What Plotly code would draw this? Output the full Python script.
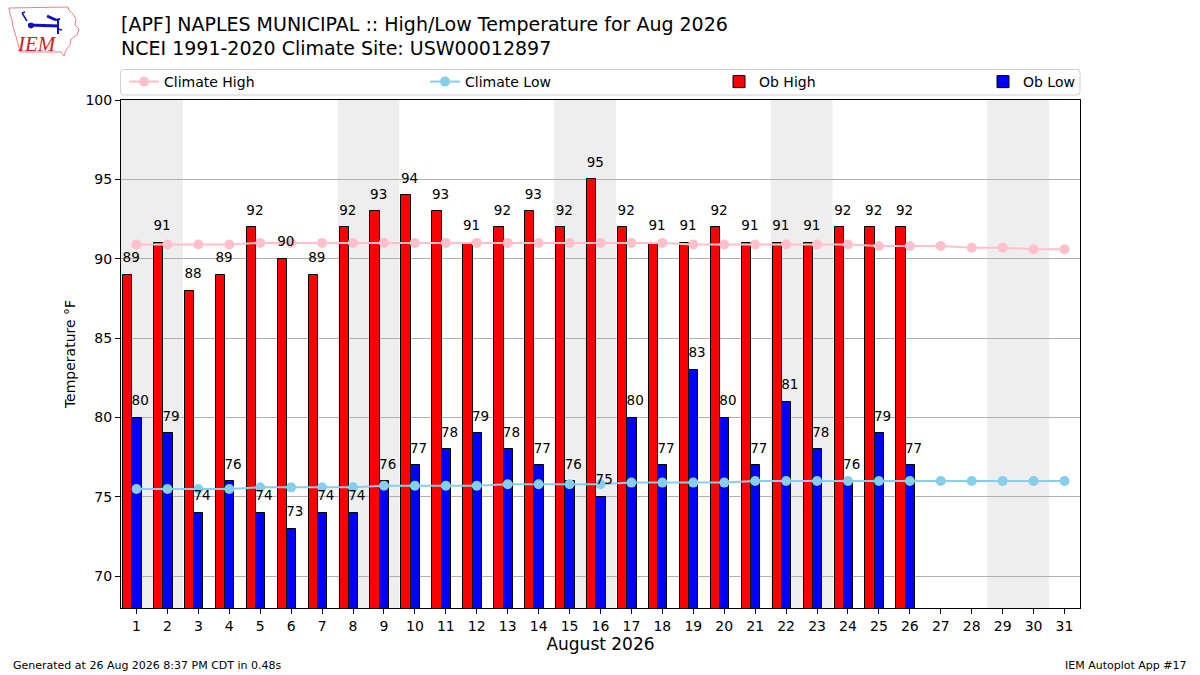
import plotly.graph_objects as go

# ---------------- data ----------------
days = list(range(1, 32))
obs_days = list(range(1, 27))
ob_high = [89, 91, 88, 89, 92, 90, 89, 92, 93, 94, 93, 91, 92, 93, 92, 95,
           92, 91, 91, 92, 91, 91, 91, 92, 92, 92]
ob_low = [80, 79, 74, 76, 74, 73, 74, 74, 76, 77, 78, 79, 78, 77, 76, 75,
          80, 77, 83, 80, 77, 81, 78, 76, 79, 77]
climate_high = [90.9, 90.9, 90.9, 90.9, 91.0, 91.0, 91.0, 91.0, 91.0, 91.0,
                91.0, 91.0, 91.0, 91.0, 91.0, 91.0, 91.0, 91.0, 90.9, 90.9,
                90.9, 90.9, 90.9, 90.9, 90.8, 90.8, 90.8, 90.7, 90.7, 90.6, 90.6]
climate_low = [75.5, 75.5, 75.5, 75.5, 75.6, 75.6, 75.6, 75.6, 75.7, 75.7,
               75.7, 75.7, 75.8, 75.8, 75.8, 75.8, 75.9, 75.9, 75.9, 75.9,
               76.0, 76.0, 76.0, 76.0, 76.0, 76.0, 76.0, 76.0, 76.0, 76.0, 76.0]
weekend_days = [1, 2, 8, 9, 15, 16, 22, 23, 29, 30]
y_ticks = [70, 75, 80, 85, 90, 95, 100]

# ---------------- layout geometry ----------------
W, H = 1200, 675
ML, MR, MT, MB = 121, 120, 100, 67
PW, PH = W - ML - MR, H - MT - MB


def px2x(px):
    return (px - ML) / PW


def py2y(py):
    return 1 - (py - MT) / PH


def P(a, b):
    return f"{px2x(a):.5f},{py2y(b):.5f}"


FONT = "DejaVu Sans"

fig = go.Figure()

# bars
fig.add_trace(go.Bar(
    x=obs_days, y=ob_high, width=0.3, offset=-0.435, name="Ob High",
    marker=dict(color="red", line=dict(color="black", width=1)),
    legend="legend3", showlegend=True,
))
fig.add_trace(go.Bar(
    x=obs_days, y=ob_low, width=0.3, offset=-0.135, name="Ob Low",
    marker=dict(color="blue", line=dict(color="black", width=1)),
    legend="legend4", showlegend=True,
))

# climate lines
fig.add_trace(go.Scatter(
    x=days, y=climate_high, mode="lines+markers", name="Climate High",
    line=dict(color="pink", width=2), marker=dict(color="pink", size=10),
    legend="legend",
))
fig.add_trace(go.Scatter(
    x=days, y=climate_low, mode="lines+markers", name="Climate Low",
    line=dict(color="skyblue", width=2), marker=dict(color="skyblue", size=10),
    legend="legend2",
))

# value labels
fig.add_trace(go.Scatter(
    x=[d - 0.17 for d in obs_days], y=[v + 1 for v in ob_high],
    mode="text", text=[str(v) for v in ob_high], textposition="middle center",
    textfont=dict(family=FONT, size=13.5, color="black"), showlegend=False,
    hoverinfo="skip",
))
fig.add_trace(go.Scatter(
    x=[d + 0.12 for d in obs_days], y=[v + 1 for v in ob_low],
    mode="text", text=[str(v) for v in ob_low], textposition="middle center",
    textfont=dict(family=FONT, size=13.5, color="black"), showlegend=False,
    hoverinfo="skip",
))

# weekend shading (merge consecutive days into one band)
bands = []
for d in weekend_days:
    if bands and bands[-1][1] == d - 1:
        bands[-1][1] = d
    else:
        bands.append([d, d])
for a, b in bands:
    fig.add_vrect(x0=a - 0.5, x1=b + 0.5, fillcolor="#eeeeee", line_width=0,
                  layer="below")

# legend frame (rounded)
lx0, lx1, ly0, ly1, r = 120.5, 1080, 69.5, 95, 3
frame = (f"M {P(lx0 + r, ly0)} L {P(lx1 - r, ly0)} Q {P(lx1, ly0)} {P(lx1, ly0 + r)} "
         f"L {P(lx1, ly1 - r)} Q {P(lx1, ly1)} {P(lx1 - r, ly1)} "
         f"L {P(lx0 + r, ly1)} Q {P(lx0, ly1)} {P(lx0, ly1 - r)} "
         f"L {P(lx0, ly0 + r)} Q {P(lx0, ly0)} {P(lx0 + r, ly0)} Z")
fig.add_shape(type="path", xref="paper", yref="paper", path=frame,
              line=dict(color="#d0d0d0", width=1), fillcolor="white",
              layer="below")

leg_common = dict(orientation="h", yanchor="middle", y=py2y(82),
                  xanchor="left", bgcolor="rgba(0,0,0,0)", borderwidth=0,
                  font=dict(family=FONT, size=14, color="black"),
                  itemwidth=30)

# ---------------- logo ----------------
iowa = [(9, 8), (68, 7), (69, 10), (73, 14), (76, 19), (75, 25), (79, 29),
        (77, 35), (71, 39), (70, 45), (66, 50), (64, 56), (61, 52), (20, 52),
        (19, 48), (17, 40), (15, 33), (13, 27), (12, 20), (10, 14)]
path = "M " + " L ".join(P(a, b) for a, b in iowa) + " Z"
fig.add_shape(type="path", xref="paper", yref="paper", path=path,
              line=dict(color="#f08080", width=1))
icon_lines = [((28, 25), (59, 26), 3), ((58, 19), (58, 34), 2),
              ((47, 16), (56, 20), 3), ((56, 20), (60, 19), 2),
              ((22, 13), (27, 21), 1.5), ((22, 13), (25, 12), 1.5),
              ((58, 29), (62, 30), 1.5)]
for (a, b), (c, d), w in icon_lines:
    fig.add_shape(type="line", xref="paper", yref="paper",
                  x0=px2x(a), y0=py2y(b), x1=px2x(c), y1=py2y(d),
                  line=dict(color="#1010c0", width=w))
fig.add_shape(type="circle", xref="paper", yref="paper",
              x0=px2x(28.5), x1=px2x(33.5), y0=py2y(28), y1=py2y(23),
              fillcolor="#1010c0", line=dict(color="#1010c0", width=1))
fig.add_annotation(text="<i>IEM</i>", xref="paper", yref="paper",
                   x=px2x(37), y=py2y(44), xanchor="center", yanchor="middle",
                   showarrow=False,
                   font=dict(family="Liberation Serif", size=21, color="#d02020"))

# footer
fig.add_annotation(text="Generated at 26 Aug 2026 8:37 PM CDT in 0.48s",
                   xref="paper", yref="paper", x=px2x(11), y=py2y(665),
                   xanchor="left", yanchor="middle", showarrow=False,
                   font=dict(family=FONT, size=11, color="black"))
fig.add_annotation(text="IEM Autoplot App #17",
                   xref="paper", yref="paper", x=px2x(1189), y=py2y(665),
                   xanchor="right", yanchor="middle", showarrow=False,
                   font=dict(family=FONT, size=11, color="black"))

fig.update_layout(
    width=W, height=H,
    margin=dict(l=ML, r=MR, t=MT, b=MB, pad=0),
    paper_bgcolor="white", plot_bgcolor="white",
    font=dict(family=FONT, size=14, color="black"),
    title=dict(
        text="[APF] NAPLES MUNICIPAL :: High/Low Temperature for Aug 2026<br>"
             "NCEI 1991-2020 Climate Site: USW00012897",
        x=0, xref="paper", xanchor="left",
        y=1 - 30.5 / H, yref="container", yanchor="middle",
        font=dict(family=FONT, size=19, color="black"),
    ),
    barmode="overlay",
    bargap=0,
    showlegend=True,
    legend=dict(leg_common, x=px2x(124)),
    legend2=dict(leg_common, x=px2x(425)),
    legend3=dict(leg_common, x=px2x(719)),
    legend4=dict(leg_common, x=px2x(983)),
    xaxis=dict(
        range=[0.5, 31.5], tickmode="array", tickvals=days,
        ticktext=[str(d) for d in days],
        showgrid=False, zeroline=False,
        showline=True, linecolor="black", linewidth=1, mirror=True,
        ticks="outside", ticklen=5, tickcolor="black",
        tickfont=dict(family=FONT, size=14, color="black"),
        title=dict(text="August 2026", standoff=4,
                   font=dict(family=FONT, size=17, color="black")),
    ),
    yaxis=dict(
        range=[68, 100], tickmode="array", tickvals=y_ticks,
        showgrid=True, gridcolor="#b0b0b0", gridwidth=1, zeroline=False,
        showline=True, linecolor="black", linewidth=1, mirror=True,
        ticks="outside", ticklen=5, tickcolor="black",
        tickfont=dict(family=FONT, size=14, color="black"),
        title=dict(text="Temperature °F", standoff=6,
                   font=dict(family=FONT, size=14, color="black")),
    ),
)

fig.write_html("out.html", config={"displayModeBar": False},
               post_script="document.body.style.margin='0px';")
